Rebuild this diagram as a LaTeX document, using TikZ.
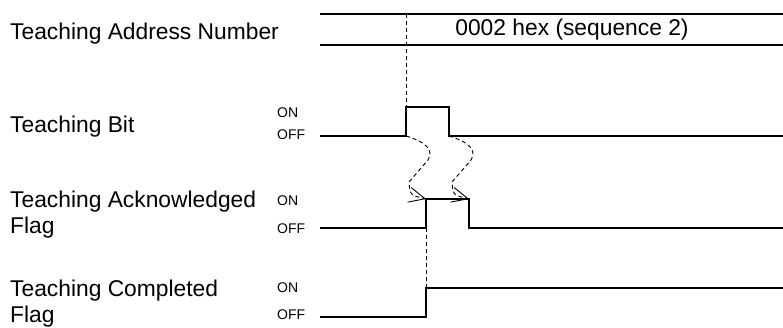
\documentclass[tikz,border=0pt]{standalone}
\usepackage{fontspec}
\setmainfont{Liberation Sans}
\usetikzlibrary{arrows.meta}
\begin{document}
\begin{tikzpicture}[x=1pt,y=-1pt,
	sig/.style={line width=1.5pt},
	guide/.style={line width=0.9pt,dash pattern=on 4pt off 3pt},
	lbl/.style={anchor=base west,align=left,font=\fontsize{22.8}{26}\selectfont,inner sep=0pt},
	lvl/.style={anchor=west,font=\fontsize{14}{16}\selectfont,inner sep=0pt},
	ack/.style={guide,-{Straight Barb[length=16pt,width=15pt,line width=0.9pt]}}]
	\useasboundingbox (0,0) rectangle (783,327);
	% labels
	\node[lbl] (addr) at (10,39) {Teaching Address Number};
	\node[lbl] (bit) at (10,132) {Teaching Bit};
	\node[lbl] (ackf) at (10,233) {Teaching Acknowledged\\Flag};
	\node[lbl] (comp) at (10,322) {Teaching Completed\\Flag};
	\node[lvl] (biton) at (277,113) {ON};
	\node[lvl] (bitoff) at (277,135) {OFF};
	\node[lvl] (ackon) at (277,201) {ON};
	\node[lvl] (ackoff) at (277,229) {OFF};
	\node[lvl] (compon) at (277,288) {ON};
	\node[lvl] (compoff) at (277,315) {OFF};
	% address bus
	\draw[sig] (320,14)--(783,14) (320,45)--(783,45);
	\node[font=\fontsize{22.8}{26}\selectfont] (seq) at (572,30) {0002 hex (sequence 2)};
	% signals
	\coordinate (b1) at (406,136); \coordinate (b2) at (449,136);
	\coordinate (a1) at (426,199); \coordinate (a2) at (469,199);
	\draw[sig] (320,136)--(b1)--(406,107)--(449,107)--(b2)--(783,136);
	\draw[sig] (320,228)--(426,228)--(a1)--(a2)--(469,228)--(783,228);
	\draw[sig] (320,317)--(426,317)--(426,288)--(783,288);
	\draw[guide] (406,14)--(406,107) (426,228)--(426,288);
	\draw[ack] (b1) .. controls (426,142) and (434,150) .. (428,160) -- (409,182) .. controls (410,195) .. (a1);
	\draw[ack] (b2) .. controls (469,142) and (477,150) .. (471,160) -- (452,182) .. controls (453,195) .. (a2);
\end{tikzpicture}
\end{document}
